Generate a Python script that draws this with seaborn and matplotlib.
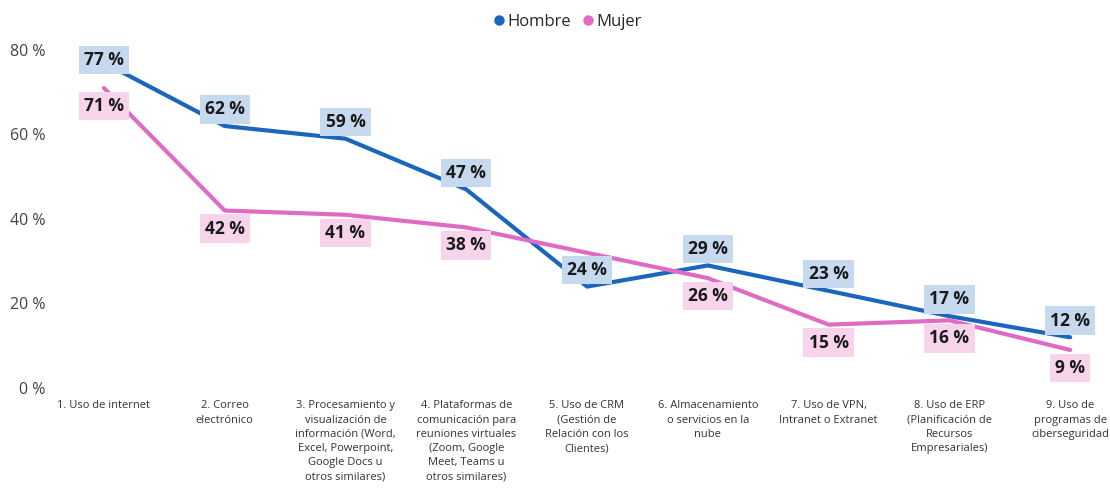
import numpy as np
import pandas as pd
import seaborn as sns
import matplotlib.pyplot as plt
from matplotlib.lines import Line2D

categorias = [
    "1. Uso de internet",
    "2. Correo\nelectrónico",
    "3. Procesamiento y\nvisualización de\ninformación (Word,\nExcel, Powerpoint,\nGoogle Docs u\notros similares)",
    "4. Plataformas de\ncomunicación para\nreuniones virtuales\n(Zoom, Google\nMeet, Teams u\notros similares)",
    "5. Uso de CRM\n(Gestión de\nRelación con los\nClientes)",
    "6. Almacenamiento\no servicios en la\nnube",
    "7. Uso de VPN,\nIntranet o Extranet",
    "8. Uso de ERP\n(Planificación de\nRecursos\nEmpresariales)",
    "9. Uso de\nprogramas de\nciberseguridad",
]
hombre = [77, 62, 59, 47, 24, 29, 23, 17, 12]
mujer = [71, 42, 41, 38, 32, 26, 15, 16, 9]
# the reference hides the Mujer label on CRM
mujer_etiquetas = [True, True, True, True, False, True, True, True, True]

col_h = "#1a66bd"
col_m = "#e06bc4"
caja_h = "#c6d9ee"
caja_m = "#f7d3ec"

sns.set_theme(style="white")
plt.rcParams['font.family'] = ['Open Sans', 'DejaVu Sans']

pos = np.arange(len(categorias))
df = pd.DataFrame({
    "pos": np.concatenate([pos, pos]),
    "valor": hombre + mujer,
    "sexo": ["Hombre"] * len(hombre) + ["Mujer"] * len(mujer),
})

fig = plt.figure(figsize=(11.1, 4.94), dpi=100)
ax = fig.add_axes([0.045, 0.2146, 0.955, 0.727])
sns.lineplot(data=df, x="pos", y="valor", hue="sexo",
             palette={"Hombre": col_h, "Mujer": col_m},
             linewidth=3, legend=False, ax=ax)

etiqueta = dict(ha="center", va="center", fontsize=12.5, fontweight="bold", color="#1a1a1a",
                textcoords="offset points")
for i, (x, v) in enumerate(zip(pos, hombre)):
    dy = 2 if i == 0 else 12  # top label is pushed down onto the line
    ax.annotate(f"{v} %", (x, v), xytext=(0, dy), **etiqueta,
                bbox=dict(boxstyle="square,pad=0.3", fc=caja_h, ec="none"))
for x, v, mostrar in zip(pos, mujer, mujer_etiquetas):
    if not mostrar:
        continue
    ax.annotate(f"{v} %", (x, v), xytext=(0, -13), **etiqueta,
                bbox=dict(boxstyle="square,pad=0.3", fc=caja_m, ec="none"))

ax.set_xlim(-0.447, 8.33)
ax.set_ylim(0, 85)
ax.set_yticks([0, 20, 40, 60, 80])
ax.set_yticklabels([f"{t} %" for t in [0, 20, 40, 60, 80]], fontsize=11.5, color="#444444")
ax.set_xticks(pos)
ax.set_xticklabels(categorias, fontsize=8, color="#333333", linespacing=1.4, va="top")
ax.tick_params(axis="x", length=0, pad=9)
ax.tick_params(axis="y", length=0, pad=3)
ax.set_xlabel("")
ax.set_ylabel("")
sns.despine(left=True, bottom=True)

handles = [Line2D([], [], marker="o", linestyle="", color=col_h, markersize=6.5),
           Line2D([], [], marker="o", linestyle="", color=col_m, markersize=6.5)]
fig.legend(handles, ["Hombre", "Mujer"], loc="center", bbox_to_anchor=(0.51, 0.955),
           ncol=2, frameon=False, fontsize=12, handletextpad=0.0, columnspacing=0.5,
           handlelength=1.0)

fig.savefig("out.png", dpi=100)
